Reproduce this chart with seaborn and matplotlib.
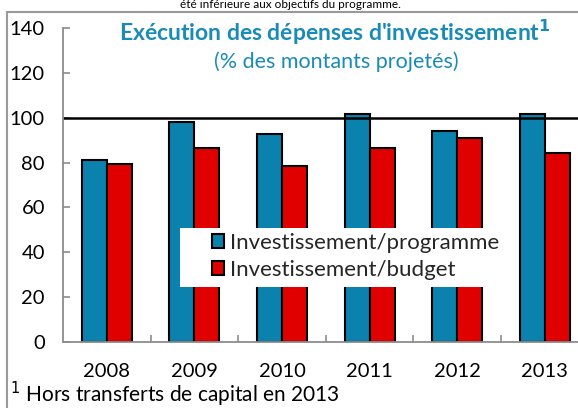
import matplotlib
matplotlib.use("Agg")
import matplotlib.pyplot as plt
import seaborn as sns
import pandas as pd
from matplotlib.lines import Line2D
from matplotlib.patches import Rectangle

years = ["2008", "2009", "2010", "2011", "2012", "2013"]
programme = [81.1, 98.0, 92.7, 101.5, 94.2, 101.5]
budget = [79.4, 86.5, 78.5, 86.6, 90.8, 84.4]
series_names = ["Investissement/programme", "Investissement/budget"]
yticks = [0, 20, 40, 60, 80, 100, 120, 140]

df = pd.DataFrame({
    "year": years * 2,
    "value": programme + budget,
    "series": [series_names[0]] * len(years) + [series_names[1]] * len(years),
})

sns.set_theme(style="white")
plt.rcParams["font.family"] = ["Lato", "DejaVu Sans"]

W, H = 578, 408
fig = plt.figure(figsize=(W / 100, H / 100), dpi=100)
ax_w = 525.6
ax_h = 314
ax = fig.add_axes([63 / W, 66 / H, ax_w / W, ax_h / H])

sns.barplot(data=df, x="year", y="value", hue="series", order=years,
            hue_order=series_names, palette=["#0A82AD", "#E00000"],
            width=0.57, edgecolor="black", linewidth=1.5, ax=ax,
            saturation=1, legend=True)

ax.set_xlim(-0.5, 5.5)
ax.set_ylim(0, 140)
ax.set_yticks(yticks)
ax.set_xlabel("")
ax.set_ylabel("")
ax.axhline(100, color="black", lw=1.8, zorder=1)

for s in ["top", "right"]:
    ax.spines[s].set_visible(False)
for s in ["left", "bottom"]:
    ax.spines[s].set_color("#8c8c8c")
    ax.spines[s].set_linewidth(1.3)

ax.tick_params(axis="y", direction="in", length=5, width=1.2, color="#8c8c8c",
               pad=13, labelsize=14.5, labelcolor="black", left=True)
ax.tick_params(axis="x", bottom=False, pad=9, labelsize=14.5, labelcolor="black")
ax.set_xticks([0.5, 1.5, 2.5, 3.5, 4.5], minor=True)
ax.tick_params(axis="x", which="minor", direction="in", length=5, width=1.2,
               color="#8c8c8c", bottom=True)


def ax_x(px):
    return (px - 63) / ax_w


def ax_y(py):
    return (342 - py) / ax_h


# white legend box
box = Rectangle((ax_x(180), ax_y(287)), ax_x(505) - ax_x(180), ax_y(228) - ax_y(287),
                transform=ax.transAxes, facecolor="white", edgecolor="none",
                zorder=4, clip_on=False)
ax.add_patch(box)

handles, labels = ax.get_legend_handles_labels()
leg = ax.legend(handles, labels, loc="upper left",
                bbox_to_anchor=(ax_x(212), ax_y(233)),
                frameon=False, fontsize=16, handlelength=0.55, handleheight=0.55,
                handletextpad=0.25, borderpad=0, labelspacing=0.3,
                borderaxespad=0)
leg.set_zorder(5)

title_color = "#1A8BB8"
fig.text(335 / W, 1 - 32 / H, "Exécution des dépenses d'investissement$^{\\mathbf{1}}$",
         ha="center", va="center", fontsize=16.5, fontweight="bold", color=title_color)
fig.text(336 / W, 1 - 62 / H, "(% des montants projetés)",
         ha="center", va="center", fontsize=15.5, color=title_color)

fig.text(10 / W, 1 - 394 / H, "$^{1}$ Hors transferts de capital en 2013",
         ha="left", va="center", fontsize=15, color="black")
fig.text(290 / W, 1 - 5 / H, "été inférieure aux objectifs du programme.",
         ha="center", va="center", fontsize=8.5, color="black")

fig.add_artist(Line2D([7 / W, 7 / W], [0, 1 - 12 / H], transform=fig.transFigure,
                      color="#9a9a9a", lw=1.5))
fig.add_artist(Line2D([7 / W, 1], [1 - 12 / H, 1 - 12 / H], transform=fig.transFigure,
                      color="#9a9a9a", lw=1.5))

fig.savefig("out.png", dpi=100)
